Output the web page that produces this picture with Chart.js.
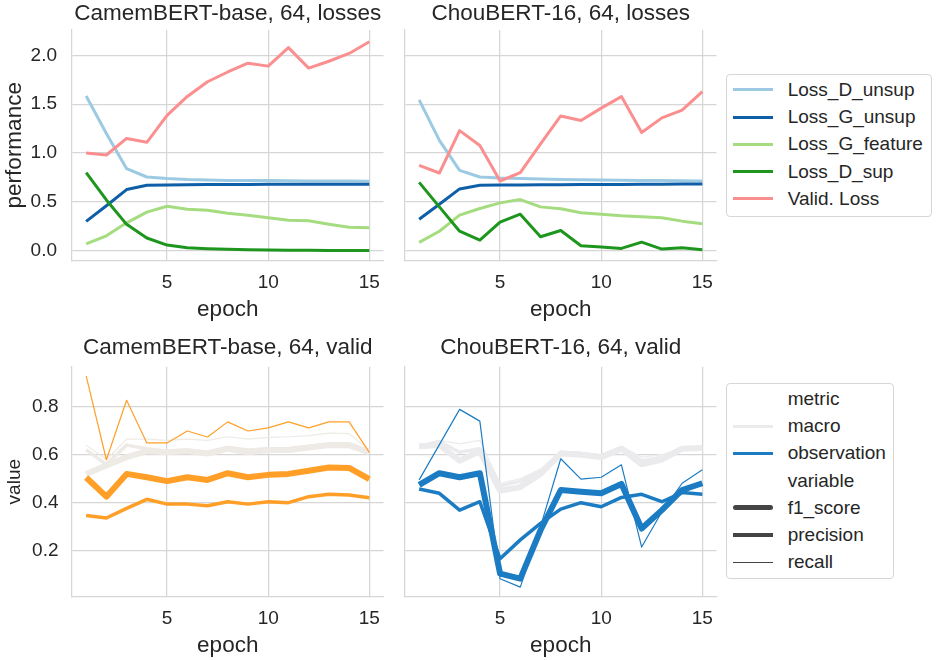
<!DOCTYPE html>
<html>
<head>
<meta charset="utf-8">
<script src="https://cdn.jsdelivr.net/npm/chart.js@4.4.1/dist/chart.umd.min.js"></script>
<style>
  html, body { margin: 0; padding: 0; background: #fff; }
  body { width: 936px; height: 660px; position: relative; overflow: hidden;
         font-family: "Liberation Sans", Arial, sans-serif; color: #262626; }
  canvas { position: absolute; }
  .legend { position: absolute; box-sizing: border-box; border: 1px solid #d6d6d6;
            border-radius: 4px; padding-top: 1.4px; background: #fff; }
  .legend .row { display: flex; align-items: center; height: 27.2px; font-size: 19px; white-space: nowrap; }
  .legend .handle { width: 40px; margin-left: 5.7px; margin-right: 15px; flex: none; }
</style>
</head>
<body>
<canvas id="camLosses" width="400" height="330" style="left:0;top:0"></canvas>
<canvas id="chouLosses" width="330" height="330" style="left:395px;top:0"></canvas>
<canvas id="camValid" width="400" height="330" style="left:0;top:330px"></canvas>
<canvas id="chouValid" width="330" height="330" style="left:395px;top:330px"></canvas>
<div id="lossLegend" class="legend" style="left:726px;top:74px;width:206px;height:143px"></div>
<div id="validLegend" class="legend" style="left:726px;top:383px;width:168px;height:196px"></div>

<script>
// values
const epochs = [1, 2, 3, 4, 5, 6, 7, 8, 9, 10, 11, 12, 13, 14, 15];
const epochTicks = [5, 10, 15];
const lossTicks = [0, 0.5, 1.0, 1.5, 2.0];
const validTicks = [0.2, 0.4, 0.6, 0.8];

const lossLabels = ['Loss_D_unsup', 'Loss_G_unsup', 'Loss_G_feature', 'Loss_D_sup', 'Valid. Loss'];
const metricLabels = ['macro', 'observation'];
const variableLabels = ['f1_score', 'precision', 'recall'];

// CamemBERT-base, 64
const camLossDUnsup = [1.585, 1.20, 0.84, 0.755, 0.74, 0.73, 0.725, 0.72, 0.72, 0.718, 0.716, 0.715, 0.714, 0.713, 0.712];
const camLossGUnsup = [0.30, 0.46, 0.626, 0.67, 0.673, 0.676, 0.678, 0.678, 0.679, 0.68, 0.68, 0.68, 0.68, 0.68, 0.68];
const camLossGFeature = [0.07, 0.153, 0.286, 0.395, 0.456, 0.425, 0.415, 0.384, 0.364, 0.337, 0.313, 0.306, 0.272, 0.241, 0.235];
const camLossDSup = [0.80, 0.52, 0.27, 0.13, 0.058, 0.03, 0.02, 0.014, 0.01, 0.007, 0.005, 0.004, 0.003, 0.003, 0.002];
const camValidLoss = [1.0, 0.98, 1.15, 1.11, 1.385, 1.58, 1.73, 1.83, 1.92, 1.89, 2.08, 1.87, 1.94, 2.02, 2.14];

const camObsF1 = [0.505, 0.425, 0.52, 0.506, 0.49, 0.506, 0.495, 0.523, 0.506, 0.516, 0.52, 0.533, 0.547, 0.545, 0.498];
const camObsPrecision = [0.347, 0.336, 0.376, 0.414, 0.394, 0.394, 0.387, 0.404, 0.394, 0.404, 0.40, 0.425, 0.435, 0.432, 0.421];
const camObsRecall = [0.929, 0.579, 0.827, 0.649, 0.649, 0.699, 0.674, 0.737, 0.699, 0.712, 0.737, 0.712, 0.737, 0.737, 0.61];
const camMacroF1 = [0.52, 0.555, 0.59, 0.615, 0.61, 0.615, 0.605, 0.625, 0.61, 0.62, 0.62, 0.63, 0.64, 0.64, 0.61];
const camMacroPrecision = [0.62, 0.56, 0.64, 0.625, 0.615, 0.62, 0.61, 0.63, 0.62, 0.625, 0.625, 0.635, 0.645, 0.645, 0.615];
const camMacroRecall = [0.64, 0.58, 0.665, 0.665, 0.66, 0.665, 0.66, 0.675, 0.665, 0.672, 0.675, 0.68, 0.69, 0.688, 0.62];

// ChouBERT-16, 64
const chouLossDUnsup = [1.544, 1.13, 0.823, 0.755, 0.745, 0.74, 0.735, 0.73, 0.728, 0.725, 0.722, 0.72, 0.718, 0.716, 0.714];
const chouLossGUnsup = [0.323, 0.476, 0.633, 0.67, 0.673, 0.674, 0.675, 0.676, 0.677, 0.678, 0.679, 0.68, 0.681, 0.682, 0.684];
const chouLossGFeature = [0.085, 0.2, 0.364, 0.432, 0.49, 0.524, 0.449, 0.429, 0.388, 0.374, 0.357, 0.347, 0.337, 0.303, 0.276];
const chouLossDSup = [0.70, 0.449, 0.20, 0.109, 0.293, 0.374, 0.143, 0.207, 0.051, 0.037, 0.024, 0.088, 0.017, 0.031, 0.01];
const chouValidLoss = [0.874, 0.796, 1.23, 1.078, 0.714, 0.80, 1.095, 1.38, 1.333, 1.46, 1.578, 1.21, 1.36, 1.44, 1.63];

const chouObsF1 = [0.474, 0.523, 0.506, 0.523, 0.104, 0.083, 0.285, 0.453, 0.446, 0.439, 0.478, 0.292, 0.369, 0.453, 0.481];
const chouObsPrecision = [0.457, 0.439, 0.369, 0.404, 0.166, 0.245, 0.314, 0.373, 0.40, 0.383, 0.422, 0.435, 0.404, 0.442, 0.435];
const chouObsRecall = [0.495, 0.642, 0.789, 0.74, 0.083, 0.048, 0.30, 0.583, 0.498, 0.506, 0.558, 0.215, 0.362, 0.481, 0.537];
const chouMacroF1 = [0.635, 0.64, 0.575, 0.615, 0.45, 0.465, 0.52, 0.605, 0.60, 0.59, 0.625, 0.56, 0.58, 0.625, 0.628];
const chouMacroPrecision = [0.635, 0.655, 0.61, 0.625, 0.47, 0.49, 0.53, 0.61, 0.605, 0.595, 0.63, 0.575, 0.59, 0.625, 0.63];
const chouMacroRecall = [0.635, 0.66, 0.645, 0.66, 0.48, 0.50, 0.54, 0.615, 0.61, 0.60, 0.635, 0.59, 0.60, 0.63, 0.632];

const FONT = '"Liberation Sans", Arial, sans-serif';
const TEXT = '#262626';
const GRID = '#d6d6d6';
const LOSS_COLORS = ['#9dcae3', '#0f5fa8', '#a6dc80', '#1e961e', '#fb8f8f'];
const VAR_WIDTHS = [6, 3.5, 1.2];
const HANDLE_GREY = '#444444';

function lossSeries(values) {
    return values.map((v, i) => ({ label: lossLabels[i], values: v, color: LOSS_COLORS[i], width: 3, order: 10 - i }));
}

function validSeries(obs, macro, obsColor, macroColor) {
    const out = [];
    obs.forEach((v, i) => out.push({ label: 'observation ' + variableLabels[i], values: v, color: obsColor, width: VAR_WIDTHS[i], order: i }));
    macro.forEach((v, i) => out.push({ label: 'macro ' + variableLabels[i], values: v, color: macroColor, width: VAR_WIDTHS[i], order: 5 + i }));
    return out;
}

function buildPanel(canvasId, p) {
    const datasets = p.series.map(s => ({
        label: s.label,
        data: epochs.map((e, k) => ({ x: e, y: s.values[k] })),
        borderColor: s.color,
        borderWidth: s.width,
        borderJoinStyle: 'round',
        pointRadius: 0,
        tension: 0,
        fill: false,
        order: s.order
    }));

    return new Chart(document.getElementById(canvasId), {
        type: 'line',
        data: { datasets },
        options: {
            responsive: false,
            animation: false,
            layout: { padding: { left: 0, right: p.padRight, top: 0, bottom: 0 } },
            plugins: {
                legend: { display: false },
                tooltip: { enabled: false },
                title: {
                    display: true, text: p.title, fullSize: false, color: TEXT,
                    font: { family: FONT, size: 22.5, weight: 'normal' },
                    padding: p.titlePad
                }
            },
            scales: {
                x: {
                    type: 'linear', min: 0.3, max: 15.7,
                    afterBuildTicks: s => { s.ticks = epochTicks.map(v => ({ value: v })); },
                    afterFit: s => { s.height = p.xHeight; },
                    grid: { color: GRID, lineWidth: 1.25, drawTicks: false },
                    border: { color: GRID, width: 1.25 },
                    ticks: { color: TEXT, font: { family: FONT, size: 19 }, padding: 11, maxRotation: 0, autoSkip: false },
                    title: {
                        display: true, text: 'epoch', color: TEXT,
                        font: { family: FONT, size: 22.5 },
                        padding: { top: 0, bottom: p.xTitlePad }
                    }
                },
                y: {
                    type: 'linear', min: p.yMin, max: p.yMax,
                    afterBuildTicks: s => { s.ticks = p.yTicks.map(v => ({ value: v })); },
                    afterFit: s => { s.width = p.yWidth; },
                    grid: { color: GRID, lineWidth: 1.25, drawTicks: false },
                    border: { color: GRID, width: 1.25 },
                    ticks: {
                        display: p.yLabels, color: TEXT, font: { family: FONT, size: 19 },
                        padding: p.yTickPad, callback: v => v.toFixed(1)
                    },
                    title: {
                        display: !!p.yTitle, text: p.yTitle || '', color: TEXT,
                        font: { family: FONT, size: p.yTitleSize || 19 },
                        padding: { top: p.yTitlePad || 0, bottom: 0 }
                    }
                }
            }
        }
    });
}

function buildLegend(id, entries) {
    const box = document.getElementById(id);
    entries.forEach(en => {
        const row = document.createElement('div');
        row.className = 'row';
        const h = document.createElement('span');
        h.className = 'handle';
        h.style.height = (en.width || 0) + 'px';
        h.style.background = en.color || 'transparent';
        if (en.width > 4) h.style.borderRadius = '3px';
        const t = document.createElement('span');
        t.textContent = en.label;
        row.appendChild(h);
        row.appendChild(t);
        box.appendChild(row);
    });
}

document.addEventListener('DOMContentLoaded', () => {
    const lossTop = { titlePad: { top: 0, bottom: 3 }, xHeight: 69.5, xTitlePad: 6.5, yMin: -0.1, yMax: 2.26, yTicks: lossTicks };
    const validTop = { titlePad: { top: 4.5, bottom: 5.2 }, xHeight: 63.3, xTitlePad: 0.5, yMin: 0.008, yMax: 0.967, yTicks: validTicks };

    buildPanel('camLosses', Object.assign({}, lossTop, {
        title: 'CamemBERT-base, 64, losses', padRight: 16.5, yWidth: 72, yLabels: true, yTickPad: 15,
        yTitle: 'performance', yTitleSize: 22.5, yTitlePad: 1.5,
        series: lossSeries([camLossDUnsup, camLossGUnsup, camLossGFeature, camLossDSup, camValidLoss])
    }));
    buildPanel('chouLosses', Object.assign({}, lossTop, {
        title: 'ChouBERT-16, 64, losses', padRight: 8.5, yWidth: 10, yLabels: false, yTickPad: 0,
        series: lossSeries([chouLossDUnsup, chouLossGUnsup, chouLossGFeature, chouLossDSup, chouValidLoss])
    }));
    buildPanel('camValid', Object.assign({}, validTop, {
        title: 'CamemBERT-base, 64, valid', padRight: 16.5, yWidth: 72, yLabels: true, yTickPad: 13.5,
        yTitle: 'value', yTitleSize: 19, yTitlePad: 3.6,
        series: validSeries([camObsF1, camObsPrecision, camObsRecall], [camMacroF1, camMacroPrecision, camMacroRecall], '#ff9f27', '#eeeae6')
    }));
    buildPanel('chouValid', Object.assign({}, validTop, {
        title: 'ChouBERT-16, 64, valid', padRight: 8.5, yWidth: 10, yLabels: false, yTickPad: 0,
        series: validSeries([chouObsF1, chouObsPrecision, chouObsRecall], [chouMacroF1, chouMacroPrecision, chouMacroRecall], '#1b7cc4', '#ebebed')
    }));

    buildLegend('lossLegend', lossLabels.map((l, i) => ({ label: l, color: LOSS_COLORS[i], width: 3 })));
    buildLegend('validLegend', [
        { label: 'metric' },
        { label: metricLabels[0], color: '#ebebeb', width: 3 },
        { label: metricLabels[1], color: '#1b7cc4', width: 3 },
        { label: 'variable' },
        { label: variableLabels[0], color: HANDLE_GREY, width: 5.5 },
        { label: variableLabels[1], color: HANDLE_GREY, width: 3.5 },
        { label: variableLabels[2], color: HANDLE_GREY, width: 1.2 }
    ]);
});
</script>
</body>
</html>
